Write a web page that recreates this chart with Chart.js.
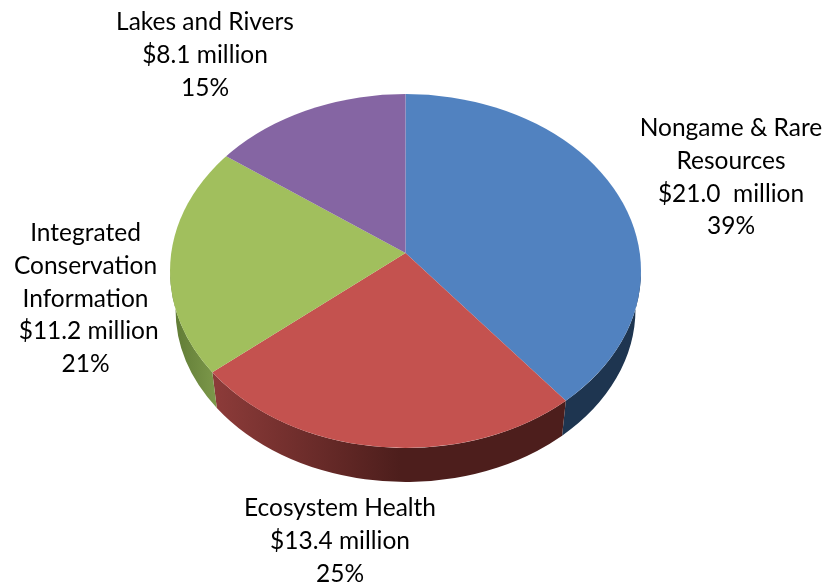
<!DOCTYPE html>
<html>
<head>
<meta charset="utf-8">
<style>
  html, body { margin: 0; padding: 0; background: #fff; }
  canvas { display: block; }
</style>
<script src="https://cdn.jsdelivr.net/npm/chart.js@4"></script>
</head>
<body>
<canvas id="pie" width="827" height="586"></canvas>
<script>
// Funding by program area, in millions of dollars.
const categories = ["Nongame & Rare Resources", "Ecosystem Health", "Integrated Conservation Information", "Lakes and Rivers"];
const fundingMillions = [21.0, 13.4, 11.2, 8.1];
const sharePercent = [39, 25, 21, 15];
const categoryLines = [["Nongame & Rare", "Resources"], ["Ecosystem Health"], ["Integrated", "Conservation", "Information"], ["Lakes and Rivers"]];
const amountSeparators = ["  ", " ", " ", " "];
const amountLeads = ["", "", " ", ""];

const topColors = ["#5182c0", "#c4524f", "#a1bf5d", "#8565a3"];
const wallStops = [
  [["#1e3550", 0], ["#1e3550", 1]],
  [["#8c3b39", 0], ["#4d1e1c", 1]],
  [["#5f7a35", 0], ["#7c984a", 1]],
  [["#4c3a63", 0], ["#4c3a63", 1]]
];
const wallSpans = [[400, 640], [216, 400], [172, 216], [226, 405]];

// Tilted disc: the top outline is an ellipse with the slice apex above its
// centre; the lower rim is a slightly smaller ellipse further down.
const disc = { cx: 405.5, cy: 271, rx: 235.5, ry: 177, apexY: 253 };
const rim = { cx: 405.5, cy: 309, rx: 230, ry: 173 };
const tilt = disc.ry / disc.rx;

// Text blocks: centre x and first line middle y, with the line pitch below.
const labelAnchors = [[731, 128.5], [340, 508.5], [85.5, 233.5], [205, 22.5]];
const linePitch = 32.6;
const labelFont = "24.5px Lato";

// Parametric ellipse angle where a slice edge at arc angle a leaves the apex.
function rimAngle(a) {
  const dx = Math.cos(a), dy = Math.sin(a);
  const oy = (disc.apexY - disc.cy) / tilt;
  const b = oy * dy;
  const t = -b + Math.sqrt(b * b - (oy * oy - disc.rx * disc.rx));
  return Math.atan2(oy + t * dy, t * dx);
}

function normalised(phi) {
  // Angles just past the left extreme count as after pi, not before 0.
  return phi < -Math.PI / 2 ? phi + 2 * Math.PI : phi;
}

const discPlugin = {
  id: "tiltedDisc",
  beforeDatasetsDraw(chart) {
    const ctx = chart.ctx;
    const arcs = chart.getDatasetMeta(0).data;
    arcs.forEach((arc, i) => {
      const from = Math.max(normalised(rimAngle(arc.startAngle)), 0);
      const to = Math.min(normalised(rimAngle(arc.endAngle)), Math.PI);
      if (to <= from) return;
      const grad = ctx.createLinearGradient(wallSpans[i][0], 0, wallSpans[i][1], 0);
      wallStops[i].forEach(([c, s]) => grad.addColorStop(s, c));
      ctx.save();
      ctx.beginPath();
      ctx.ellipse(disc.cx, disc.cy, disc.rx, disc.ry, 0, from, to);
      ctx.ellipse(rim.cx, rim.cy, rim.rx, rim.ry, 0, to, from, true);
      ctx.closePath();
      ctx.fillStyle = grad;
      ctx.fill();
      ctx.restore();
    });

    // Slices are oversized, squashed about the apex and trimmed to the outline.
    ctx.save();
    ctx.beginPath();
    ctx.ellipse(disc.cx, disc.cy, disc.rx, disc.ry, 0, 0, Math.PI * 2);
    ctx.clip();
    ctx.translate(arcs[0].x, arcs[0].y);
    ctx.scale(1, tilt);
    ctx.translate(-arcs[0].x, -arcs[0].y);
  },
  afterDatasetsDraw(chart) {
    const ctx = chart.ctx;
    ctx.restore();
    ctx.save();
    ctx.font = labelFont;
    ctx.fillStyle = "#000";
    ctx.textAlign = "center";
    ctx.textBaseline = "middle";
    categories.forEach((_, i) => {
      const amount = amountLeads[i] + "$" + fundingMillions[i].toFixed(1) + amountSeparators[i] + "million";
      const lines = [...categoryLines[i], amount, sharePercent[i] + "%"];
      lines.forEach((line, n) => {
        ctx.fillText(line, labelAnchors[i][0], labelAnchors[i][1] + n * linePitch);
      });
    });
    ctx.restore();
  }
};

new Chart(document.getElementById("pie"), {
  type: "pie",
  data: {
    labels: categories,
    datasets: [{
      data: fundingMillions,
      backgroundColor: topColors,
      borderWidth: 0,
      radius: 275
    }]
  },
  options: {
    responsive: false,
    animation: false,
    layout: { padding: { left: 0, right: 16, top: 0, bottom: 80 } },
    plugins: { legend: { display: false }, tooltip: { enabled: false } }
  },
  plugins: [discPlugin]
});
</script>
</body>
</html>
